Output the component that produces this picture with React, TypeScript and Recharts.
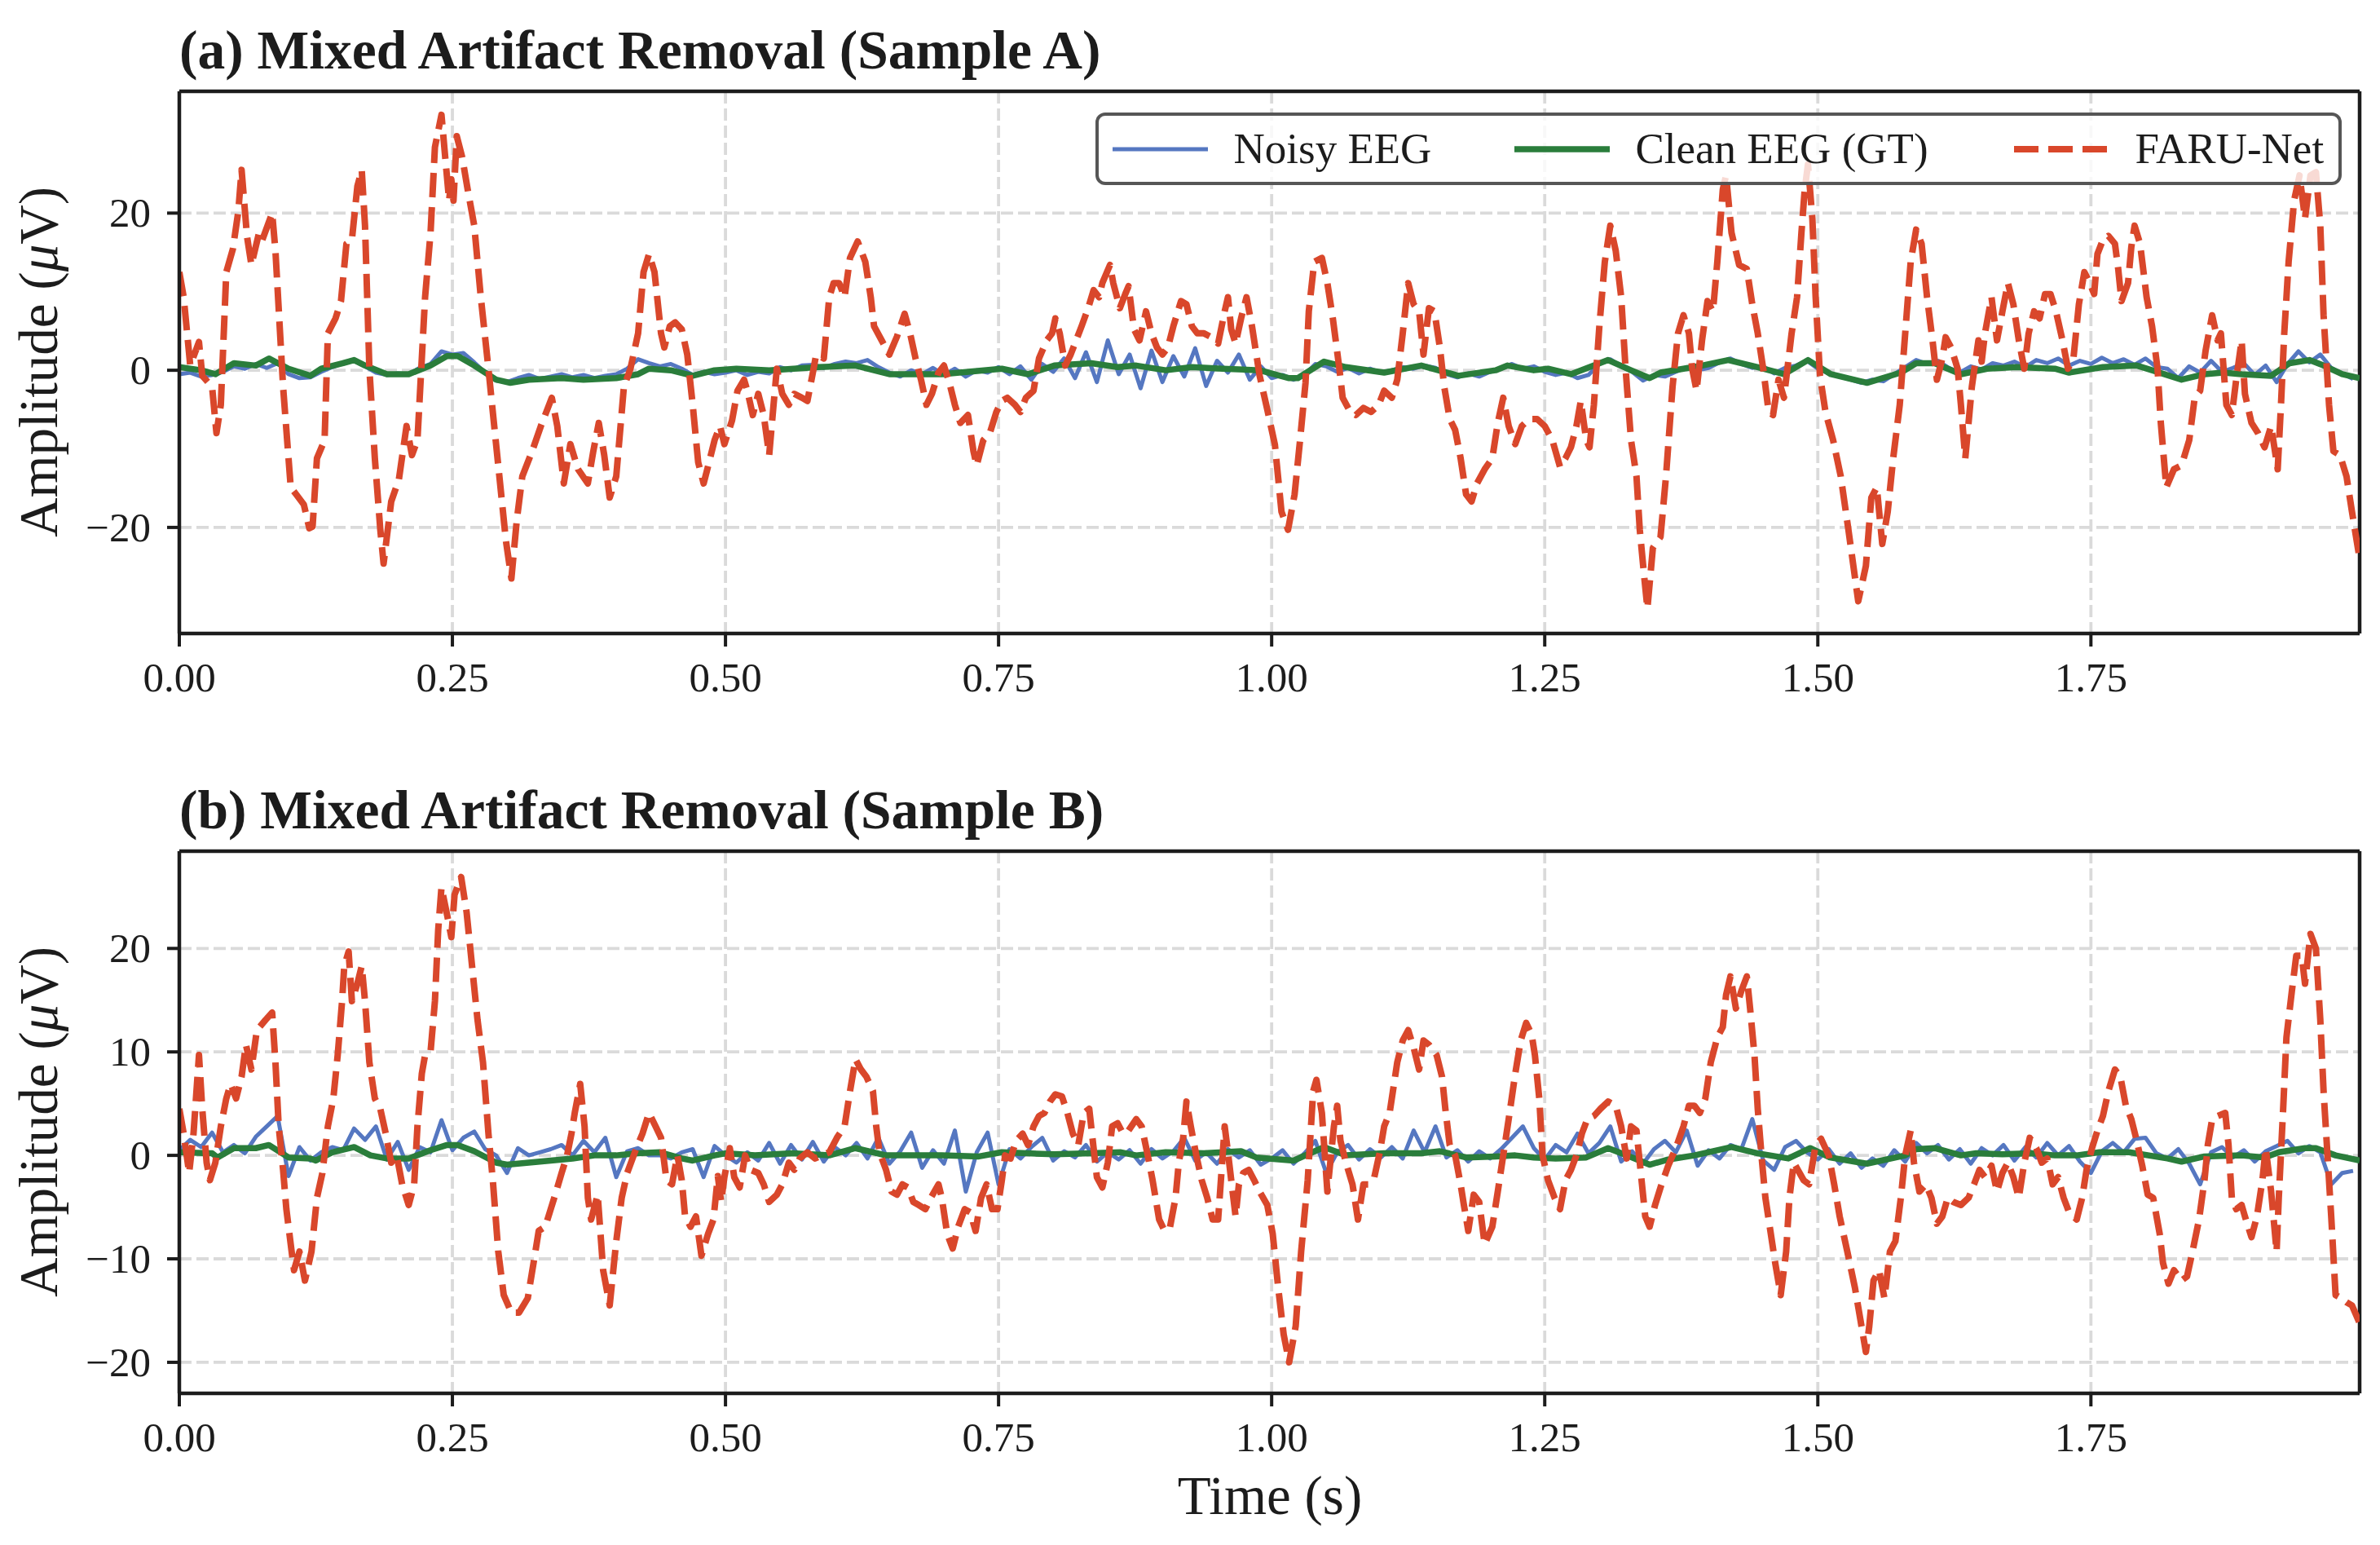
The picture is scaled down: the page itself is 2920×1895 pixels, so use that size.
import { CartesianGrid, Legend, Line, LineChart, ReferenceLine, XAxis, YAxis } from "recharts";

const FONT = "'Liberation Serif', 'Times New Roman', Times, serif";
const INK = "#1c1c1c";
const BLUE = "#5577c1";
const GREEN = "#2a7d3b";
const RED = "#d9472b";

// time axis (s), 256 Hz x 512 samples
const T_END = 1.996;
const NOISY_STEP = 0.01;
const X_TICKS = [0, 0.25, 0.5, 0.75, 1.0, 1.25, 1.5, 1.75];

const Y_TICKS_A = [-20, 0, 20];
const Y_DOMAIN_A: [number, number] = [-33.5, 35.5];
const Y_TICKS_B = [-20, -10, 0, 10, 20];
const Y_DOMAIN_B: [number, number] = [-23.0, 29.4];

type Pt = [number, number];

// ---- Sample A ----
const NOISY_A = [
  -0.5, -0.3, -0.8, -0.6, -0.2, 0.5, 0.2, 0.8, 0.3, 0.9,
  -0.5, -1.0, -0.9, -0.2, 0.4, 0.9, 1.2, 0.5, -0.3, -0.6,
  -0.4, -0.5, 0.3, 0.8, 2.4, 2.0, 2.2, 1.0, -0.3, -1.3,
  -1.5, -1.0, -0.6, -1.1, -0.8, -0.5, -0.9, -0.6, -1.0, -0.7,
  -0.5, 0.2, 1.4, 0.9, 0.5, 0.8, 0.2, -0.6, -0.2, -0.5,
  -0.3, 0.0, -0.6, -0.2, -0.4, 0.4, 0.0, 0.6, 0.7, 0.3,
  0.8, 1.1, 0.9, 1.3, 0.4, -0.3, -0.8, 0.0, -0.5, 0.3,
  -0.6, 0.2, -0.8, 0.0, -0.3, 0.4, -0.5, 0.5, -1.2, 0.8,
  -0.2, 1.5, -1.0, 2.3, -1.5, 3.8, -0.5, 2.0, -2.3, 2.5,
  -1.5, 1.8, -0.8, 2.8, -2.0, 1.2, -0.3, 2.0, -1.2, 0.5,
  -1.0, -0.6, -1.2, -0.6, 0.8, 0.5, -0.2, 0.3, -0.4, 0.2,
  -0.3, 0.0, 0.4, 0.2, 0.6, 0.3, -0.5, -0.9, -0.4, -0.8,
  -0.2, 0.3, 0.8, 0.2, 0.5, -0.2, -0.6, -0.3, -1.0, -0.6,
  0.8, 1.4, 0.5, -0.2, -1.3, -0.6, -0.8, -0.2, 0.4, 0.0,
  0.3, 1.0, 1.5, 0.8, 0.3, 0.5, -0.4, 0.3, 0.6, 1.2,
  0.2, -0.4, -0.8, -1.2, -1.6, -1.2, -1.4, -0.5, 0.4, 1.3,
  0.8, 1.2, 0.3, -0.3, 0.5, 0.1, 0.9, 0.6, 1.1, 0.4,
  1.3, 0.9, 1.5, 0.6, 1.2, 0.8, 1.6, 0.9, 1.4, 0.7,
  1.5, 0.4, 0.2, -1.0, 0.5, -0.3, 1.2, -0.2, 0.3, 0.9,
  -0.6, 0.6, -1.5, 0.8, 2.4, 1.0, 2.0, 0.3, -0.4, -1.1,
];

const CLEAN_A: Pt[] = [
  [0, 0.4], [0.02, 0], [0.033, -0.5], [0.05, 0.9], [0.07, 0.6], [0.082, 1.5], [0.1, 0.2], [0.12, -0.7],
  [0.13, 0.2], [0.15, 0.9], [0.16, 1.3], [0.17, 0.6], [0.19, -0.5], [0.21, -0.5], [0.23, 0.6], [0.245, 1.8],
  [0.255, 1.8], [0.27, 0.6], [0.29, -1.2], [0.303, -1.6], [0.32, -1.2], [0.35, -1.0], [0.37, -1.2], [0.4, -1.0],
  [0.42, -0.5], [0.43, 0.2], [0.45, 0], [0.47, -0.7], [0.49, 0], [0.51, 0.2], [0.54, 0], [0.585, 0.4],
  [0.619, 0.6], [0.65, -0.5], [0.698, -0.5], [0.753, 0.2], [0.777, -0.5], [0.801, 0.6], [0.835, 0.9], [0.859, 0.4],
  [0.876, 0.6], [0.903, 0], [0.927, 0.4], [0.955, 0.2], [0.989, 0], [1.016, -1.0], [1.024, -1.0], [1.048, 1.1],
  [1.068, 0.4], [1.103, -0.3], [1.137, 0.6], [1.171, -0.7], [1.205, 0], [1.216, 0.6], [1.24, 0], [1.253, 0.2],
  [1.274, -0.5], [1.308, 1.3], [1.329, 0], [1.346, -1.0], [1.356, -0.3], [1.377, 0.2], [1.394, 0.6], [1.418, 1.3],
  [1.445, 0.4], [1.469, -0.5], [1.491, 1.3], [1.512, -0.5], [1.539, -1.4], [1.545, -1.6], [1.576, -0.3], [1.59, 0.9],
  [1.607, 0.9], [1.631, -0.5], [1.655, 0.2], [1.682, 0.4], [1.717, 0.2], [1.73, -0.3], [1.761, 0.4], [1.792, 0.6],
  [1.806, 0], [1.833, -1.2], [1.854, -0.5], [1.871, -0.3], [1.888, -0.5], [1.915, -0.7], [1.932, 0.9], [1.95, 1.3],
  [1.963, 0.6], [1.98, -0.5], [1.996, -1.0],
];

const FARU_A: Pt[] = [
  [0.0, 12.5], [0.004, 9.3], [0.01, 0.6], [0.018, 3.6], [0.021, -0.7], [0.03, -2.1], [0.034, -8.0], [0.038, -4.4],
  [0.043, 12.5], [0.049, 15.4], [0.054, 20.2], [0.057, 25.5], [0.062, 17.0], [0.066, 13.4], [0.073, 17.5], [0.076, 16.6],
  [0.085, 20.0], [0.088, 15.2], [0.095, -2.1], [0.102, -14.9], [0.107, -15.8], [0.114, -17.1], [0.119, -20.1], [0.122, -19.9],
  [0.126, -11.2], [0.133, -8.9], [0.136, 4.7], [0.143, 6.6], [0.148, 8.8], [0.153, 16.1], [0.158, 16.6], [0.163, 23.4],
  [0.167, 25.5], [0.17, 18.4], [0.174, 0.2], [0.179, -11.2], [0.184, -20.3], [0.187, -24.6], [0.194, -16.7], [0.201, -13.9],
  [0.208, -7.1], [0.213, -10.8], [0.218, -8.9], [0.225, 9.3], [0.23, 17.5], [0.234, 28.4], [0.24, 32.5], [0.244, 26.2],
  [0.247, 21.6], [0.249, 24.3], [0.251, 21.6], [0.254, 29.8], [0.259, 27.1], [0.264, 23.0], [0.27, 18.4], [0.276, 9.3],
  [0.283, 0.2], [0.288, -6.7], [0.293, -13.5], [0.299, -21.7], [0.304, -26.5], [0.309, -19.0], [0.314, -13.5], [0.323, -10.3],
  [0.331, -7.1], [0.341, -3.5], [0.346, -7.1], [0.352, -14.4], [0.358, -9.4], [0.365, -12.6], [0.374, -14.4], [0.379, -10.3],
  [0.384, -6.7], [0.389, -10.8], [0.394, -16.2], [0.4, -13.5], [0.407, -2.1], [0.413, 0.2], [0.42, 4.7], [0.425, 12.5],
  [0.43, 14.8], [0.435, 12.5], [0.441, 4.7], [0.444, 2.9], [0.449, 5.6], [0.454, 6.1], [0.46, 5.2], [0.465, 2.0],
  [0.47, -4.4], [0.475, -11.7], [0.48, -14.4], [0.485, -11.7], [0.49, -8.9], [0.495, -7.1], [0.499, -9.4], [0.506, -6.4],
  [0.511, -2.6], [0.517, -1.2], [0.52, -2.6], [0.525, -5.7], [0.53, -3.0], [0.535, -5.7], [0.54, -10.8], [0.544, -4.4],
  [0.547, 0.2], [0.552, -3.0], [0.558, -4.4], [0.563, -3.0], [0.57, -3.5], [0.575, -3.9], [0.58, -0.3], [0.583, 2.0],
  [0.59, 1.5], [0.595, 9.3], [0.599, 11.1], [0.604, 11.1], [0.609, 9.3], [0.614, 14.3], [0.621, 16.4], [0.628, 13.8],
  [0.633, 9.3], [0.636, 5.6], [0.643, 3.8], [0.65, 2.0], [0.657, 4.3], [0.664, 7.2], [0.669, 4.7], [0.674, 1.5],
  [0.679, -1.2], [0.684, -4.4], [0.689, -3.0], [0.695, -0.3], [0.7, 0.6], [0.705, -1.6], [0.71, -4.4], [0.715, -6.7],
  [0.722, -5.7], [0.727, -10.3], [0.73, -12.1], [0.736, -8.9], [0.742, -8.0], [0.748, -5.3], [0.753, -3.9], [0.758, -3.5],
  [0.765, -4.4], [0.77, -5.3], [0.775, -3.5], [0.782, -2.6], [0.787, 1.5], [0.794, 3.8], [0.799, 4.7], [0.802, 6.6],
  [0.806, 4.7], [0.811, 0.6], [0.816, 2.0], [0.821, 3.8], [0.826, 5.6], [0.832, 7.9], [0.837, 10.2], [0.842, 9.3],
  [0.845, 11.1], [0.852, 13.4], [0.855, 11.1], [0.861, 7.9], [0.866, 9.7], [0.869, 10.7], [0.874, 5.2], [0.879, 3.8],
  [0.885, 7.5], [0.89, 4.7], [0.895, 2.9], [0.9, 2.0], [0.905, 2.9], [0.91, 5.6], [0.917, 8.8], [0.922, 8.4],
  [0.927, 5.6], [0.932, 4.7], [0.938, 4.7], [0.945, 4.2], [0.951, 3.4], [0.957, 7.5], [0.96, 9.3], [0.963, 5.2],
  [0.967, 3.4], [0.972, 6.6], [0.977, 9.3], [0.982, 5.6], [0.989, -0.7], [0.996, -5.0], [1.003, -9.5], [1.009, -18.0],
  [1.015, -20.3], [1.021, -15.8], [1.026, -8.9], [1.031, -1.6], [1.034, 7.5], [1.039, 13.8], [1.046, 14.3], [1.051, 11.1],
  [1.056, 6.6], [1.062, 0.2], [1.065, -3.5], [1.072, -5.3], [1.077, -5.7], [1.084, -4.8], [1.091, -5.3], [1.098, -4.4],
  [1.103, -2.6], [1.11, -3.5], [1.115, -1.2], [1.12, 4.7], [1.125, 11.1], [1.13, 8.4], [1.135, 7.5], [1.139, 2.0],
  [1.144, 7.9], [1.149, 7.5], [1.154, 2.9], [1.158, -2.1], [1.163, -6.2], [1.168, -7.6], [1.173, -11.2], [1.178, -15.8],
  [1.183, -16.7], [1.188, -14.4], [1.195, -12.6], [1.202, -11.2], [1.207, -6.7], [1.212, -3.5], [1.217, -7.1], [1.223, -9.4],
  [1.229, -7.1], [1.236, -6.2], [1.243, -6.2], [1.25, -7.1], [1.257, -8.9], [1.264, -12.3], [1.269, -11.2], [1.274, -9.8],
  [1.279, -7.1], [1.283, -3.9], [1.288, -8.9], [1.291, -9.8], [1.295, -4.4], [1.3, 5.6], [1.305, 13.8], [1.31, 18.4],
  [1.315, 15.2], [1.32, 9.3], [1.324, 0.2], [1.329, -8.9], [1.334, -13.5], [1.337, -20.3], [1.341, -26.2], [1.344, -30.3],
  [1.349, -22.6], [1.356, -21.2], [1.361, -13.5], [1.367, -2.1], [1.372, 4.7], [1.377, 7.0], [1.382, 4.7], [1.385, 0.2],
  [1.389, -2.6], [1.394, 3.8], [1.399, 8.8], [1.404, 7.5], [1.408, 13.8], [1.413, 23.0], [1.416, 24.8], [1.421, 17.5],
  [1.428, 13.4], [1.435, 12.9], [1.44, 8.4], [1.445, 4.7], [1.45, 0.2], [1.455, -5.3], [1.459, -5.7], [1.464, -1.2],
  [1.469, -3.5], [1.476, 4.7], [1.481, 9.3], [1.485, 17.5], [1.488, 23.0], [1.491, 26.2], [1.495, 19.3], [1.498, 9.3],
  [1.502, -0.7], [1.507, -5.3], [1.514, -8.9], [1.521, -13.5], [1.528, -20.3], [1.537, -29.4], [1.544, -24.9], [1.549, -16.2],
  [1.554, -14.9], [1.559, -22.1], [1.564, -18.0], [1.569, -11.2], [1.575, -4.4], [1.58, 4.7], [1.585, 13.8], [1.59, 17.9],
  [1.595, 16.1], [1.6, 9.3], [1.605, 3.8], [1.609, -1.2], [1.614, 1.5], [1.617, 4.2], [1.622, 2.9], [1.628, 0.2],
  [1.631, -4.4], [1.635, -11.2], [1.638, -6.7], [1.641, -2.1], [1.647, 3.8], [1.65, 1.1], [1.653, 4.7], [1.659, 9.3],
  [1.664, 3.8], [1.669, 7.5], [1.674, 11.1], [1.679, 8.4], [1.684, 3.8], [1.689, 0.2], [1.693, 4.7], [1.698, 7.5],
  [1.703, 6.6], [1.708, 9.7], [1.713, 9.7], [1.718, 7.5], [1.724, 3.8], [1.729, 0.2], [1.734, 1.5], [1.739, 8.4],
  [1.744, 12.5], [1.749, 11.1], [1.753, 9.7], [1.756, 14.8], [1.761, 16.6], [1.766, 17.1], [1.772, 16.1], [1.775, 12.9],
  [1.778, 8.8], [1.784, 11.1], [1.787, 15.7], [1.79, 18.4], [1.795, 16.1], [1.801, 9.3], [1.806, 5.6], [1.811, 0.2],
  [1.814, -6.7], [1.819, -14.9], [1.826, -12.6], [1.833, -12.1], [1.84, -8.9], [1.845, -3.5], [1.85, -2.6], [1.855, 2.5],
  [1.861, 7.0], [1.866, 3.8], [1.869, 4.7], [1.874, -4.4], [1.879, -5.7], [1.883, -1.2], [1.888, 3.8], [1.891, -3.0],
  [1.897, -6.7], [1.903, -8.0], [1.909, -9.8], [1.915, -7.1], [1.921, -12.6], [1.924, -4.4], [1.927, 4.7], [1.931, 13.8],
  [1.936, 21.6], [1.941, 24.8], [1.946, 19.3], [1.951, 24.8], [1.956, 25.2], [1.96, 18.4], [1.963, 7.0], [1.968, -4.4],
  [1.972, -10.3], [1.978, -10.8], [1.984, -13.5], [1.989, -18.0], [1.996, -24.0],
];

// ---- Sample B ----
const NOISY_B = [
  0.5, 1.5, 0.8, 2.2, 0.3, 1.0, 0.2, 1.8, 2.8, 3.8,
  -2.0, 0.8, -0.5, 0.3, 0.8, 0.5, 2.6, 1.5, 2.8, -0.4,
  1.3, -1.4, 0.8, 0.3, 3.4, 0.5, 1.7, 2.3, 0.6, 0.0,
  -1.7, 0.7, 0.0, 0.3, 0.6, 1.0, 0.0, 1.4, 0.3, 1.7,
  -2.1, 0.4, 0.7, 0.0, 0.0, -0.3, 0.3, 0.6, -2.1, 0.9,
  0.0, -0.7, 0.3, -0.5, 1.2, -0.8, 1.0, -0.4, 1.3, -0.6,
  0.8, 0.0, 1.2, -0.3, 1.7, -0.8, 0.4, 2.2, -1.2, 0.5,
  -0.8, 2.4, -3.5, 0.3, 2.2, -2.8, 0.6, -0.3, 0.8, 1.7,
  -0.5, 0.4, -0.2, 1.0, -0.6, 0.3, -0.4, 0.5, -0.8, 0.6,
  -0.3, 0.4, 1.7, -0.5, 0.3, -0.8, 0.6, -0.2, 0.5, -0.9,
  -0.3, 0.5, -0.8, 0.2, 1.4, -1.7, 0.3, 1.0, -0.4, 0.6,
  -0.2, 0.8, -0.3, 2.4, 0.3, 2.8, -0.2, 0.5, -0.6, 0.4,
  -0.3, 0.6, 1.7, 2.8, 0.7, -0.4, 1.0, 0.3, 2.1, 0.2,
  1.2, 2.8, -0.6, 0.4, -0.8, 0.6, 1.4, 0.3, 2.4, -1.0,
  0.5, -0.3, 1.0, 0.6, 3.5, -0.5, -1.4, 0.8, 1.4, 0.3,
  -0.4, 0.6, -0.8, 0.2, -1.2, -0.3, -1.0, 0.5, -0.6, 1.2,
  0.2, 1.0, -0.4, 0.6, -0.8, 0.7, 0.0, 1.0, -0.5, 0.8,
  -0.2, 1.2, 0.0, 0.9, -0.6, -1.7, 0.4, 1.2, 0.3, 1.6,
  1.7, 0.2, -0.3, 0.6, -0.8, -2.8, 0.3, 0.8, -0.2, 0.5,
  -0.6, 0.4, 0.9, 1.4, 0.2, 0.9, 0.3, -2.8, -1.7, -1.5,
];

const CLEAN_B: Pt[] = [
  [0, 0.3], [0.03, 0.2], [0.035, -0.2], [0.05, 0.7], [0.07, 0.7], [0.082, 1.0], [0.1, -0.2], [0.12, -0.3],
  [0.125, -0.5], [0.14, 0.3], [0.16, 0.8], [0.175, 0], [0.19, -0.3], [0.21, -0.3], [0.23, 0.5], [0.245, 1.0],
  [0.255, 1.0], [0.27, 0.4], [0.29, -0.7], [0.3, -0.9], [0.33, -0.6], [0.36, -0.3], [0.38, 0], [0.4, 0],
  [0.42, 0.2], [0.44, 0.3], [0.46, -0.3], [0.47, -0.5], [0.49, 0], [0.5, 0.2], [0.527, 0], [0.561, 0.2],
  [0.595, 0], [0.619, 0.7], [0.647, 0], [0.698, 0], [0.732, -0.1], [0.753, 0.3], [0.801, 0.1], [0.835, 0.2],
  [0.862, 0.3], [0.876, 0], [0.903, 0.3], [0.938, 0.2], [0.972, 0.4], [0.986, -0.2], [1.02, -0.5], [1.048, 0.8],
  [1.068, 0], [1.103, 0.2], [1.137, 0.2], [1.154, 0.4], [1.178, -0.2], [1.205, -0.1], [1.223, 0], [1.24, -0.2],
  [1.26, -0.3], [1.288, -0.2], [1.308, 0.7], [1.325, 0], [1.346, -0.9], [1.363, -0.4], [1.387, 0], [1.421, 0.8],
  [1.445, 0.2], [1.473, -0.3], [1.493, 0.7], [1.511, -0.2], [1.539, -0.7], [1.545, -0.8], [1.58, 0], [1.59, 0.6],
  [1.607, 0.7], [1.631, 0], [1.645, 0.2], [1.669, 0.1], [1.696, 0.2], [1.717, 0], [1.737, 0], [1.758, 0.3],
  [1.785, 0.3], [1.82, -0.3], [1.833, -0.6], [1.854, -0.1], [1.888, 0], [1.909, -0.2], [1.922, 0.3], [1.946, 0.7],
  [1.956, 0.7], [1.974, 0], [1.996, -0.5],
];

const FARU_B: Pt[] = [
  [0.0, 4.5], [0.004, 2.1], [0.009, -1.7], [0.013, 2.1], [0.018, 9.7], [0.021, 4.5], [0.025, -0.7], [0.028, -2.4],
  [0.033, -0.7], [0.038, 2.8], [0.043, 5.5], [0.047, 6.9], [0.052, 5.5], [0.057, 7.6], [0.061, 10.7], [0.066, 8.3],
  [0.071, 12.1], [0.079, 13.1], [0.085, 13.8], [0.088, 9.0], [0.091, 2.8], [0.095, -1.4], [0.098, -5.2], [0.102, -8.6],
  [0.105, -11.1], [0.11, -9.3], [0.115, -12.1], [0.121, -9.3], [0.126, -4.1], [0.131, -1.7], [0.136, 2.8], [0.141, 5.5],
  [0.145, 9.7], [0.149, 14.9], [0.151, 18.3], [0.155, 19.7], [0.158, 14.9], [0.163, 16.6], [0.167, 18.3], [0.17, 14.9],
  [0.174, 9.0], [0.179, 5.5], [0.184, 4.5], [0.189, 2.1], [0.194, -0.7], [0.199, 0.0], [0.204, -2.8], [0.21, -4.8],
  [0.215, -2.8], [0.218, 2.8], [0.222, 7.9], [0.225, 9.7], [0.23, 10.0], [0.234, 14.9], [0.237, 21.8], [0.24, 25.9],
  [0.246, 22.8], [0.249, 21.1], [0.252, 25.2], [0.258, 26.9], [0.263, 23.5], [0.268, 18.3], [0.273, 13.1], [0.278, 9.0],
  [0.283, 2.1], [0.287, -2.4], [0.292, -9.3], [0.297, -13.5], [0.304, -15.2], [0.311, -15.2], [0.319, -13.8], [0.326, -9.3],
  [0.329, -7.3], [0.335, -6.9], [0.34, -5.2], [0.345, -3.5], [0.35, -1.7], [0.355, 0.0], [0.359, 2.1], [0.362, 4.1],
  [0.367, 6.9], [0.371, 2.8], [0.374, -4.1], [0.377, -6.2], [0.383, -3.8], [0.388, -11.1], [0.394, -14.5], [0.4, -8.3],
  [0.405, -4.1], [0.41, -1.7], [0.417, 0.3], [0.424, 2.1], [0.43, 4.1], [0.436, 2.8], [0.441, 1.7], [0.446, -2.4],
  [0.451, -2.8], [0.456, 0.0], [0.46, -2.4], [0.463, -5.9], [0.468, -6.9], [0.473, -5.9], [0.478, -9.7], [0.484, -7.6],
  [0.489, -6.2], [0.493, -2.0], [0.496, -4.5], [0.499, -2.1], [0.504, 0.7], [0.508, -2.1], [0.513, -3.1], [0.518, 0.0],
  [0.523, -1.4], [0.53, -1.7], [0.535, -2.8], [0.54, -4.5], [0.547, -3.8], [0.552, -2.8], [0.558, -0.7], [0.563, -1.4],
  [0.568, -0.3], [0.575, 0.3], [0.582, -0.3], [0.588, 0.0], [0.595, 0.3], [0.602, 1.7], [0.609, 2.8], [0.614, 6.2],
  [0.619, 9.3], [0.624, 8.3], [0.629, 7.6], [0.635, 6.2], [0.638, 2.8], [0.641, 0.3], [0.647, -1.4], [0.652, -3.5],
  [0.657, -3.8], [0.662, -2.8], [0.667, -3.1], [0.672, -4.5], [0.677, -4.8], [0.683, -5.2], [0.688, -4.1], [0.695, -2.8],
  [0.698, -4.1], [0.703, -7.6], [0.708, -9.0], [0.713, -6.9], [0.719, -5.2], [0.724, -5.5], [0.729, -7.3], [0.734, -4.1],
  [0.739, -2.8], [0.744, -5.2], [0.749, -5.2], [0.753, -2.4], [0.756, 0.0], [0.761, -0.3], [0.766, 1.4], [0.772, 2.1],
  [0.777, 1.0], [0.782, 2.8], [0.787, 3.8], [0.792, 4.1], [0.797, 5.2], [0.802, 5.9], [0.808, 5.7], [0.813, 4.1],
  [0.818, 2.1], [0.823, 1.0], [0.828, 4.1], [0.833, 4.5], [0.837, 0.7], [0.84, -2.1], [0.845, -3.1], [0.85, -0.7],
  [0.854, 2.8], [0.859, 3.1], [0.864, 2.1], [0.869, 2.4], [0.876, 3.5], [0.881, 2.8], [0.886, 0.3], [0.891, -2.4],
  [0.897, -6.2], [0.902, -7.3], [0.907, -6.9], [0.912, -4.1], [0.915, -0.7], [0.919, 1.7], [0.922, 5.2], [0.926, 2.8],
  [0.931, 0.0], [0.936, -2.4], [0.941, -4.1], [0.946, -6.2], [0.951, -6.2], [0.957, 2.8], [0.96, 0.3], [0.963, -2.4],
  [0.967, -5.9], [0.97, -2.8], [0.974, -1.7], [0.979, -1.4], [0.984, -2.4], [0.989, -3.5], [0.996, -4.8], [1.001, -7.6],
  [1.006, -12.8], [1.011, -17.3], [1.016, -20.0], [1.022, -16.5], [1.027, -9.3], [1.033, -2.4], [1.038, 6.2], [1.041, 7.3],
  [1.046, 4.1], [1.051, -3.5], [1.057, 2.8], [1.06, 4.8], [1.063, 1.4], [1.068, -0.7], [1.074, -2.8], [1.079, -6.2],
  [1.084, -2.8], [1.089, -2.8], [1.094, -2.1], [1.099, 0.3], [1.103, 2.8], [1.108, 4.1], [1.111, 6.2], [1.115, 9.0],
  [1.12, 11.1], [1.125, 12.1], [1.13, 10.4], [1.135, 8.3], [1.139, 11.1], [1.144, 10.7], [1.151, 9.7], [1.156, 7.6],
  [1.159, 4.5], [1.163, 1.0], [1.168, 0.0], [1.173, -2.8], [1.176, -4.8], [1.18, -7.3], [1.185, -3.8], [1.19, -4.5],
  [1.195, -8.6], [1.202, -6.9], [1.207, -3.5], [1.212, 0.0], [1.217, 3.5], [1.223, 7.9], [1.228, 11.1], [1.233, 12.8],
  [1.238, 11.7], [1.241, 9.7], [1.245, 5.5], [1.248, 0.0], [1.253, -2.4], [1.259, -4.1], [1.264, -5.2], [1.269, -2.4],
  [1.274, -1.4], [1.279, 0.0], [1.284, 2.1], [1.289, 3.5], [1.295, 3.8], [1.301, 4.5], [1.308, 5.2], [1.315, 4.8],
  [1.32, 2.8], [1.325, -0.3], [1.329, 2.8], [1.334, 2.4], [1.337, -0.7], [1.342, -5.9], [1.346, -6.9], [1.351, -4.8],
  [1.356, -3.1], [1.363, -1.0], [1.37, 0.7], [1.377, 2.8], [1.382, 4.8], [1.387, 4.8], [1.392, 4.1], [1.397, 5.5],
  [1.402, 9.0], [1.408, 11.4], [1.413, 12.4], [1.416, 15.5], [1.42, 17.3], [1.425, 14.2], [1.43, 15.9], [1.435, 17.3],
  [1.438, 14.2], [1.442, 9.7], [1.445, 4.5], [1.449, -0.7], [1.452, -4.1], [1.457, -7.6], [1.461, -10.4], [1.466, -13.5],
  [1.471, -9.3], [1.474, -4.1], [1.478, -0.7], [1.487, -2.4], [1.492, -2.8], [1.498, 1.0], [1.503, 1.6], [1.51, 0.0],
  [1.515, -2.8], [1.52, -5.9], [1.527, -9.3], [1.534, -12.8], [1.539, -15.9], [1.544, -19.0], [1.547, -16.6], [1.551, -12.1],
  [1.556, -11.1], [1.561, -13.8], [1.566, -9.3], [1.571, -8.3], [1.576, -4.1], [1.58, 0.0], [1.585, 2.4], [1.588, -0.7],
  [1.593, -3.5], [1.599, -2.8], [1.604, -4.1], [1.609, -6.6], [1.614, -5.9], [1.619, -4.1], [1.624, -4.5], [1.631, -4.8],
  [1.638, -4.1], [1.643, -2.8], [1.648, -1.4], [1.653, -2.1], [1.659, -1.0], [1.664, -3.5], [1.669, -1.7], [1.674, -0.7],
  [1.679, -2.1], [1.684, -4.1], [1.689, -0.7], [1.694, 1.7], [1.7, 0.7], [1.705, -0.7], [1.71, -0.3], [1.715, -2.8],
  [1.72, -2.1], [1.725, -4.1], [1.73, -5.5], [1.737, -6.2], [1.742, -4.1], [1.746, -1.4], [1.751, 0.7], [1.756, 2.4],
  [1.761, 3.8], [1.766, 6.2], [1.772, 8.3], [1.777, 7.6], [1.782, 4.8], [1.787, 3.5], [1.792, 1.4], [1.797, -1.0],
  [1.802, -3.8], [1.807, -4.1], [1.813, -7.6], [1.816, -10.4], [1.821, -12.4], [1.826, -11.1], [1.833, -12.1], [1.838, -11.7],
  [1.843, -9.3], [1.849, -6.2], [1.854, -2.4], [1.857, 1.0], [1.861, 3.5], [1.866, 3.8], [1.873, 4.1], [1.876, 1.0],
  [1.879, -4.1], [1.883, -5.2], [1.888, -4.8], [1.891, -5.9], [1.897, -7.9], [1.902, -5.9], [1.907, -2.4], [1.91, 0.7],
  [1.915, -3.5], [1.92, -9.3], [1.922, -4.1], [1.926, 4.5], [1.929, 11.4], [1.934, 15.9], [1.938, 19.3], [1.943, 19.3],
  [1.946, 16.6], [1.951, 21.4], [1.956, 20.0], [1.96, 13.1], [1.963, 6.2], [1.967, -0.7], [1.97, -5.9], [1.974, -13.5],
  [1.979, -13.8], [1.984, -14.2], [1.989, -14.5], [1.996, -16.2],
];

const SERIES_STYLE: Record<string, { color: string; width: number; dash?: string; slot: number }> = {
  noisy: { color: BLUE, width: 5, slot: 21 },
  clean: { color: GREEN, width: 7.5, slot: 514 },
  faru: { color: RED, width: 8, dash: "30 12", slot: 1127 },
};

function buildRows(noisy: number[], clean: Pt[], faru: Pt[]) {
  const rows = new Map<string, Record<string, number>>();
  const put = (t: number, key: string, v: number) => {
    const k = t.toFixed(3);
    const row = rows.get(k) ?? { t: Number(k) };
    row[key] = v;
    rows.set(k, row);
  };
  noisy.forEach((v, i) => put(i * NOISY_STEP, "noisy", v));
  clean.forEach(([t, v]) => put(t, "clean", v));
  faru.forEach(([t, v]) => put(t, "faru", v));
  return [...rows.values()].sort((a, b) => a.t - b.t);
}

const ROWS_A = buildRows(NOISY_A, CLEAN_A, FARU_A);
const ROWS_B = buildRows(NOISY_B, CLEAN_B, FARU_B);

const fmtY = (v: number) => (v < 0 ? `\u2212${Math.abs(v)}` : `${v}`);

const xTick = (p: any) => (
  <text x={p.x} y={p.y + 55} textAnchor="middle" fontFamily={FONT} fontSize={51} fill={INK}>
    {Number(p.payload.value).toFixed(2)}
  </text>
);

const yTick = (p: any) => (
  <text x={p.x - 20} y={p.y + 17} textAnchor="end" fontFamily={FONT} fontSize={51} fill={INK}>
    {fmtY(Number(p.payload.value))}
  </text>
);

function LegendBox({ payload }: any) {
  return (
    <div
      style={{
        position: "relative",
        width: "100%",
        height: "100%",
        boxSizing: "border-box",
        border: "4.5px solid rgba(68,68,68,0.9)",
        borderRadius: 12,
        background: "rgba(255,255,255,0.8)",
      }}
    >
      {(payload ?? []).map((entry: any) => {
        const s = SERIES_STYLE[entry.dataKey];
        if (!s) return null;
        return (
          <div
            key={entry.dataKey}
            style={{ position: "absolute", left: s.slot - 4.5, top: 0, height: "100%", display: "flex", alignItems: "center" }}
          >
            <svg width={117} height={20}>
              <line x1={0} y1={10} x2={117} y2={10} stroke={s.color} strokeWidth={s.width} strokeDasharray={s.dash} />
            </svg>
            <span style={{ marginLeft: 32, fontFamily: FONT, fontSize: 53, color: INK, lineHeight: 1, whiteSpace: "nowrap" }}>
              {entry.value}
            </span>
          </div>
        );
      })}
    </div>
  );
}

function Panel({ rows, yDomain, yTicks, legend }: { rows: any[]; yDomain: [number, number]; yTicks: number[]; legend?: boolean }) {
  return (
    <LineChart width={2920} height={900} data={rows} margin={{ top: 112, right: 25, bottom: 0, left: 0 }}>
      <CartesianGrid stroke="#dadada" strokeWidth={3.8} strokeDasharray="15 6" />
      <XAxis
        dataKey="t"
        type="number"
        domain={[0, T_END]}
        ticks={X_TICKS}
        interval={0}
        allowDataOverflow
        height={123}
        tickSize={16}
        tickMargin={0}
        tick={xTick}
        tickLine={{ stroke: INK, strokeWidth: 4 }}
        axisLine={{ stroke: INK, strokeWidth: 4.5 }}
      />
      <YAxis
        type="number"
        domain={yDomain}
        ticks={yTicks}
        interval={0}
        allowDataOverflow
        width={220}
        tickSize={15}
        tickMargin={0}
        tick={yTick}
        tickLine={{ stroke: INK, strokeWidth: 4 }}
        axisLine={{ stroke: INK, strokeWidth: 4.5 }}
      />
      <ReferenceLine y={yDomain[1]} stroke={INK} strokeWidth={4.5} />
      <ReferenceLine x={T_END} stroke={INK} strokeWidth={4.5} />
      <Line
        name="Noisy EEG"
        type="linear"
        dataKey="noisy"
        stroke={BLUE}
        strokeWidth={SERIES_STYLE.noisy.width}
        strokeLinejoin="round"
        dot={false}
        activeDot={false}
        connectNulls
        isAnimationActive={false}
      />
      <Line
        name="Clean EEG (GT)"
        type="linear"
        dataKey="clean"
        stroke={GREEN}
        strokeWidth={SERIES_STYLE.clean.width}
        strokeLinejoin="round"
        dot={false}
        activeDot={false}
        connectNulls
        isAnimationActive={false}
      />
      <Line
        name="FARU-Net"
        type="linear"
        dataKey="faru"
        stroke={RED}
        strokeWidth={SERIES_STYLE.faru.width}
        strokeDasharray={SERIES_STYLE.faru.dash}
        strokeLinejoin="round"
        dot={false}
        activeDot={false}
        connectNulls
        isAnimationActive={false}
      />
      {legend && (
        <Legend
          layout="horizontal"
          align="center"
          verticalAlign="middle"
          content={LegendBox}
          wrapperStyle={{ left: 1344, top: 138, width: 1529, height: 89, bottom: "auto", right: "auto" }}
        />
      )}
    </LineChart>
  );
}

export default function App() {
  return (
    <div style={{ position: "absolute", left: 0, top: 0, width: 2920, height: 1895, background: "#fff", overflow: "hidden" }}>
      <div style={{ position: "absolute", left: 0, top: 0 }}>
        <Panel rows={ROWS_A} yDomain={Y_DOMAIN_A} yTicks={Y_TICKS_A} legend />
      </div>
      <div style={{ position: "absolute", left: 0, top: 932 }}>
        <Panel rows={ROWS_B} yDomain={Y_DOMAIN_B} yTicks={Y_TICKS_B} />
      </div>
      <svg width={2920} height={1895} style={{ position: "absolute", left: 0, top: 0, pointerEvents: "none" }}>
        <g fontFamily={FONT} fill={INK}>
          <text x={220} y={84} fontSize={67.5} fontWeight="bold">
            (a) Mixed Artifact Removal (Sample A)
          </text>
          <text x={220} y={1016} fontSize={67.5} fontWeight="bold">
            (b) Mixed Artifact Removal (Sample B)
          </text>
          <text x={70} y={444} fontSize={67} textAnchor="middle" transform="rotate(-90 70 444)">
            Amplitude (<tspan fontStyle="italic">μ</tspan>V)
          </text>
          <text x={70} y={1376} fontSize={67} textAnchor="middle" transform="rotate(-90 70 1376)">
            Amplitude (<tspan fontStyle="italic">μ</tspan>V)
          </text>
          <text x={1558} y={1857} fontSize={67} textAnchor="middle">
            Time (s)
          </text>
        </g>
      </svg>
    </div>
  );
}
